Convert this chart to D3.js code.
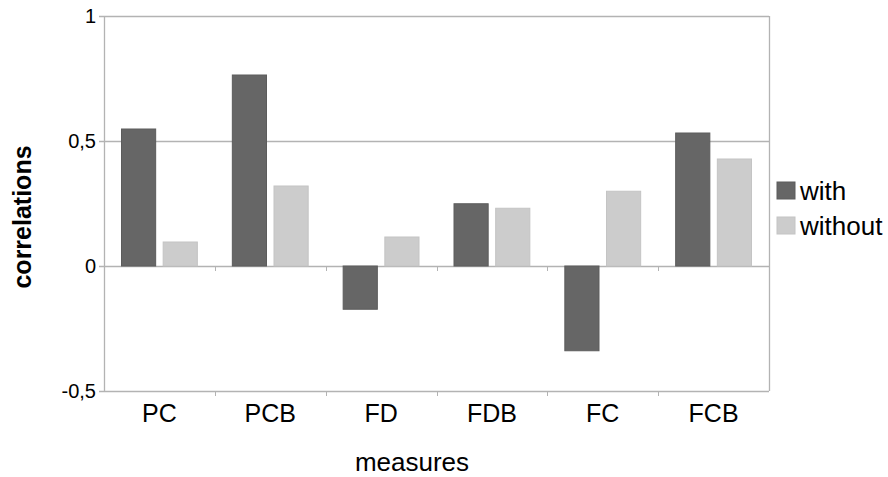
<!DOCTYPE html>
<html>
<head>
<meta charset="utf-8">
<script src="https://cdn.jsdelivr.net/npm/d3@7"></script>
<style>
  body { margin: 0; background: #fff; }
  text { font-family: "Liberation Sans", Arial, sans-serif; fill: #000; }
</style>
</head>
<body>
<script>
// chart data
var categories = ["PC", "PCB", "FD", "FDB", "FC", "FCB"];
var withValues = [0.548, 0.764, -0.173, 0.249, -0.339, 0.532];
var withoutValues = [0.096, 0.32, 0.116, 0.231, 0.299, 0.428];
var seriesNames = ["with", "without"];
var yTicks = [-0.5, 0, 0.5, 1];

var W = 888, H = 477;
var plotLeft = 104, plotRight = 769, plotTop = 16, plotBottom = 391;

var svg = d3.select("body").append("svg")
    .attr("width", W)
    .attr("height", H);

var x = d3.scaleBand()
    .domain(categories)
    .range([plotLeft, plotRight]);

var x1 = d3.scaleBand()
    .domain(seriesNames)
    .range([0, x.bandwidth()])
    .paddingInner(0.18)
    .paddingOuter(0.42);

var y = d3.scaleLinear()
    .domain([-0.5, 1])
    .range([plotBottom, plotTop]);

var color = d3.scaleOrdinal()
    .domain(seriesNames)
    .range(["#666666", "#cccccc"]);
var edge = d3.scaleOrdinal()
    .domain(seriesNames)
    .range(["#5c5c5c", "#c4c4c4"]);

// gridlines
svg.append("g")
  .selectAll("line")
  .data(yTicks)
  .enter()
    .append("line")
    .attr("x1", plotLeft - 5)
    .attr("x2", plotRight)
    .attr("y1", function(d) { return Math.round(y(d)) + 0.5; })
    .attr("y2", function(d) { return Math.round(y(d)) + 0.5; })
    .attr("stroke", "#b3b3b3")
    .attr("stroke-width", 1.3);

// right border
svg.append("line")
    .attr("x1", plotRight + 0.5).attr("x2", plotRight + 0.5)
    .attr("y1", plotTop).attr("y2", plotBottom)
    .attr("stroke", "#b3b3b3")
    .attr("stroke-width", 1.3);

// bars
var rows = categories.map(function(c, i) {
  return [
    { cat: c, key: "with", value: withValues[i] },
    { cat: c, key: "without", value: withoutValues[i] }
  ];
});

svg.append("g")
  .selectAll("g")
  .data(rows)
  .enter()
    .append("g")
    .attr("transform", function(d) { return "translate(" + x(d[0].cat) + ",0)"; })
  .selectAll("rect")
  .data(function(d) { return d; })
  .enter()
    .append("rect")
    .attr("x", function(d) { return x1(d.key); })
    .attr("y", function(d) { return y(Math.max(0, d.value)); })
    .attr("width", x1.bandwidth())
    .attr("height", function(d) { return Math.abs(y(d.value) - y(0)); })
    .attr("fill", function(d) { return color(d.key); })
    .attr("stroke", function(d) { return edge(d.key); })
    .attr("stroke-width", 1);

// y axis
var yAxis = svg.append("g")
    .attr("transform", "translate(" + plotLeft + ",0)")
    .call(d3.axisLeft(y).tickValues(yTicks).tickSize(5).tickFormat(function(d) {
      return String(d).replace(".", ",");
    }));
yAxis.select(".domain").attr("stroke", "#b3b3b3").attr("stroke-width", 1.3)
    .attr("d", "M0.5," + plotTop + "V" + plotBottom);
yAxis.selectAll(".tick line").attr("stroke", "#b3b3b3");
yAxis.selectAll(".tick text")
    .attr("x", -8)
    .style("font-size", "20px")
    .style("font-family", "Liberation Sans, Arial, sans-serif")
    .attr("fill", "#000");

// x axis
var xAxis = svg.append("g")
    .attr("transform", "translate(0," + plotBottom + ")")
    .call(d3.axisBottom(x).tickSize(0).tickPadding(13));
xAxis.select(".domain").remove();
xAxis.selectAll(".tick text")
    .style("font-size", "25px")
    .style("font-family", "Liberation Sans, Arial, sans-serif")
    .attr("fill", "#000");

// category separators on the bottom axis and on the zero line
[plotBottom, y(0)].forEach(function(yy) {
  svg.append("g")
    .selectAll("line")
    .data(categories.slice(1))
    .enter()
      .append("line")
      .attr("x1", function(d) { return Math.round(x(d)) + 0.5; })
      .attr("x2", function(d) { return Math.round(x(d)) + 0.5; })
      .attr("y1", yy)
      .attr("y2", yy + 5)
      .attr("stroke", "#b3b3b3");
});

// axis titles
svg.append("text")
    .attr("x", 412)
    .attr("y", 471)
    .attr("text-anchor", "middle")
    .style("font-size", "26px")
    .text("measures");

svg.append("text")
    .attr("transform", "translate(31,217) rotate(-90)")
    .attr("text-anchor", "middle")
    .style("font-size", "25px")
    .style("font-weight", "bold")
    .text("correlations");

// legend
var legend = svg.append("g")
  .selectAll("g")
  .data(seriesNames)
  .enter()
    .append("g")
    .attr("transform", function(d, i) { return "translate(777," + (182 + i * 35) + ")"; });

legend.append("rect")
    .attr("width", 18)
    .attr("height", 17)
    .attr("fill", function(d) { return color(d); })
    .attr("stroke", function(d) { return edge(d); });

legend.append("text")
    .attr("x", 23)
    .attr("y", 18)
    .style("font-size", "26px")
    .text(function(d) { return d; });
</script>
</body>
</html>
